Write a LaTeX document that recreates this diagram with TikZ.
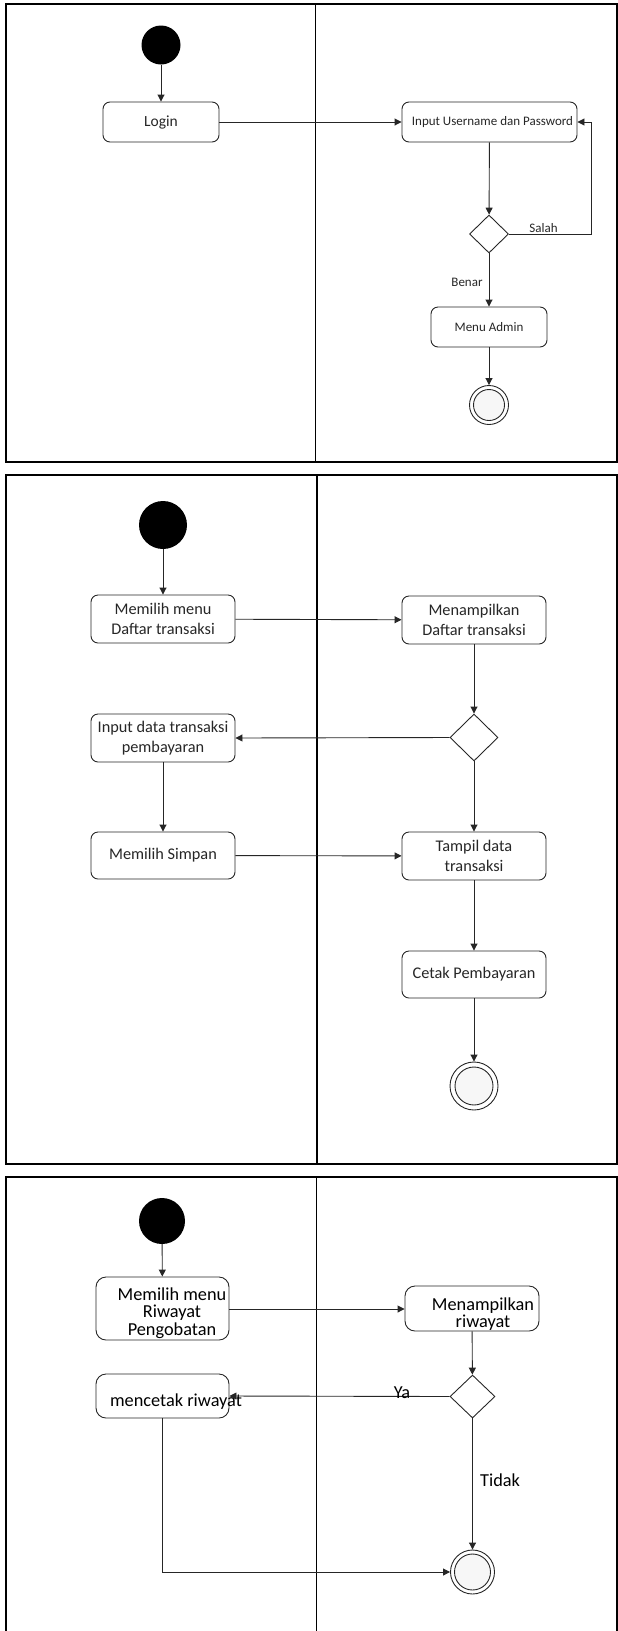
\documentclass[tikz,border=0pt]{standalone}
\usepackage{fontspec}
\setmainfont{Carlito}
\usetikzlibrary{arrows.meta,shapes.geometric,calc}
\begin{document}
\begin{tikzpicture}[x=1pt,y=-1pt,
  lane/.style={draw=black, line width=1.2pt},
  act/.style={draw=black!85, line width=0.9pt, rounded corners=7pt, rectangle, inner sep=0pt, align=center, text=black!85},
  dec/.style={draw=black!85, line width=0.9pt, diamond, inner sep=0pt},
  startnode/.style={circle, fill=black, inner sep=0pt},
  endnode/.style={circle, draw=black!85, line width=0.9pt, inner sep=0pt,
     path picture={\draw[line width=0.9pt, draw=black!85, fill=gray!6] (path picture bounding box.center) circle (#1);}},
  arr/.style={draw=black!85, line width=0.9pt, -{Triangle[length=7pt,width=7pt]}},
  ln/.style={draw=black!85, line width=0.9pt},
  fA/.style={font=\fontsize{13}{15}\selectfont},
  fB/.style={font=\fontsize{16.3}{19.5}\selectfont},
  fC/.style={font=\fontsize{18.3}{17.5}\selectfont},
  lbl/.style={inner sep=0pt, text=black!85, align=center}
]
\useasboundingbox (0,0) rectangle (618,1631);

% ---------- swimlane frames ----------
\draw[lane] (6,4) rectangle (617,462);
\draw[lane] (315.5,4) -- (315.5,462);
\draw[lane] (6,475) rectangle (617,1164);
\draw[lane] (317,475) -- (317,1164);
\draw[lane] (6,1640) -- (6,1177) -- (617,1177) -- (617,1640);
\draw[lane] (316.5,1177) -- (316.5,1640);

% ---------- panel 1 ----------
\node[startnode, minimum size=39pt] (s1) at (161,45) {};
\node[act, minimum width=116pt, minimum height=40pt, font=\fontsize{15.5}{18}\selectfont] (login) at (161,122) {Login};
\node[act, minimum width=175pt, minimum height=40pt, fA] (inp) at (489.5,122) {\hspace*{6pt}Input Username dan Password};
\node[dec, minimum width=39pt, minimum height=38pt] (d1) at (489,234) {};
\node[act, minimum width=116pt, minimum height=40pt, fA] (admin) at (489,327) {Menu Admin};
\node[endnode=15.5pt, minimum size=39pt] (e1) at (489,405) {};
\coordinate (c1) at (591,234);

\draw[arr] (s1) -- (login);
\draw[arr] (login) -- (inp);
\draw[arr] (inp) -- (d1);
\draw[arr] (d1.east) -- (c1) |- (inp.east);
\draw[arr] (d1) -- (admin);
\draw[arr] (admin) -- (e1);
\node[lbl, fA, anchor=base] (salah) at (543.5,232) {Salah};
\node[lbl, fA, anchor=base] (benar) at (467,286) {Benar};

% ---------- panel 2 ----------
\node[startnode, minimum size=48pt] (s2) at (163,525) {};
\node[act, minimum width=144pt, minimum height=48pt, fB] (m1) at (163,619) {Memilih menu\\Daftar transaksi};
\node[act, minimum width=144pt, minimum height=48pt, fB] (t1) at (474,620) {Menampilkan\\Daftar transaksi};
\node[dec, minimum width=48pt, minimum height=47pt] (d2) at (474,737.5) {};
\node[act, minimum width=144pt, minimum height=48pt, fB] (in2) at (163,738) {Input data transaksi\\pembayaran};
\node[act, minimum width=144pt, minimum height=47pt, fB] (sim) at (163,855.5) {Memilih Simpan};
\node[act, minimum width=144pt, minimum height=48pt, fB] (tam) at (474,856) {Tampil data\\transaksi};
\node[act, minimum width=144pt, minimum height=47pt, fB] (cet) at (474,974.5) {Cetak Pembayaran};
\node[endnode=19pt, minimum size=48pt] (e2) at (474,1086) {};

\draw[arr] (s2) -- (m1);
\draw[arr] (m1) -- (t1);
\draw[arr] (t1) -- (d2);
\draw[arr] (d2.west) -- (in2.east);
\draw[arr] (in2) -- (sim);
\draw[arr] (sim) -- (tam);
\draw[arr] (d2) -- (tam);
\draw[arr] (tam) -- (cet);
\draw[arr] (cet) -- (e2);

% ---------- panel 3 ----------
\node[startnode, minimum size=46pt] (s3) at (162,1221) {};
\node[act, rounded corners=10pt, minimum width=133pt, minimum height=63pt] (mr) at (162.5,1308.5) {};
\node[lbl, fC, text=black] (mrt) at (172,1313) {Memilih menu\\Riwayat\\Pengobatan};
\node[act, rounded corners=10pt, minimum width=134pt, minimum height=45pt] (mw) at (472,1308.5) {};
\node[lbl, fC, text=black] (mwt) at (483,1314) {Menampilkan\\riwayat};
\node[dec, minimum width=45pt, minimum height=43pt] (d3) at (472.5,1396.5) {};
\node[act, rounded corners=10pt, minimum width=133pt, minimum height=44pt] (mc) at (162.5,1396) {};
\node[lbl, fC, text=black] (mct) at (176,1402) {mencetak riwayat};
\node[endnode=18pt, minimum size=44pt] (e3) at (472.5,1572) {};
\coordinate (c3) at (162.5,1572);

\draw[arr] (s3) -- (mr);
\draw[arr] (mr.east |- 0,1309) -- (mw.west |- 0,1309);
\draw[arr] (mw) -- (d3);
\draw[arr] (d3.west) -- (mc.east);
\draw[arr] (d3) -- (e3);
\draw[arr] (mc.south) -- (c3) -- (e3.west);
\node[lbl, fC, text=black, anchor=base] (ya) at (402,1398) {Ya};
\node[lbl, fC, text=black, anchor=base west] (tidak) at (480,1486) {Tidak};
\end{tikzpicture}
\end{document}
